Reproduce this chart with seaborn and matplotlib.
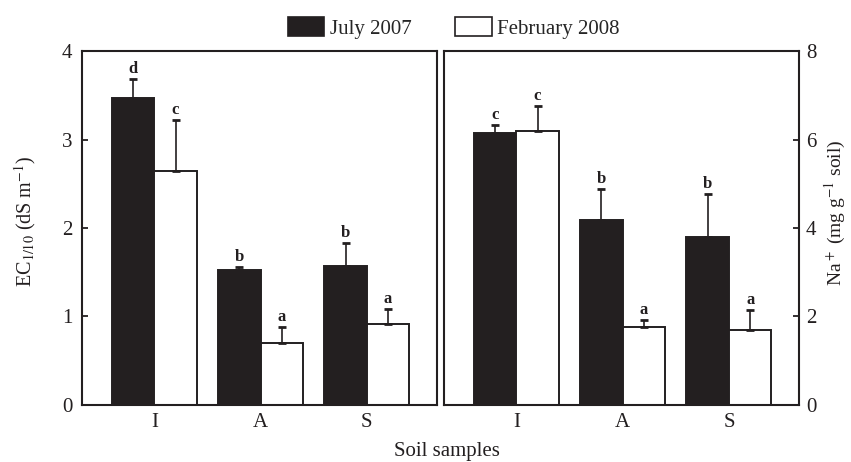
import matplotlib
matplotlib.use("Agg")
import matplotlib.pyplot as plt
import seaborn as sns
import pandas as pd
import numpy as np
from matplotlib.patches import Patch
from matplotlib.container import BarContainer

# ---- data ----
samples = ["I", "A", "S"]
periods = ["July 2007", "February 2008"]
ec_july = [3.47, 1.53, 1.57]
ec_july_err = [0.21, 0.03, 0.26]
ec_feb = [2.64, 0.70, 0.92]
ec_feb_err = [0.58, 0.18, 0.16]
ec_letters_july = ["d", "b", "b"]
ec_letters_feb = ["c", "a", "a"]

na_july = [6.14, 4.19, 3.80]
na_july_err = [0.19, 0.70, 0.97]
na_feb = [6.20, 1.76, 1.70]
na_feb_err = [0.55, 0.15, 0.44]
na_letters_july = ["c", "b", "b"]
na_letters_feb = ["c", "a", "a"]

dark = "#231f20"

sns.set_theme(style="white")
plt.rcParams["font.family"] = ["Liberation Serif", "DejaVu Serif"]
plt.rcParams["mathtext.fontset"] = "stix"

def make_df(july, feb):
    return pd.DataFrame({
        "sample": samples * 2,
        "period": [periods[0]] * 3 + [periods[1]] * 3,
        "value": list(july) + list(feb),
    })

fig = plt.figure(figsize=(8.51, 4.62), dpi=100)
ax1 = fig.add_axes([0.0964, 0.1234, 0.4171, 0.7662])
ax2 = fig.add_axes([0.5217, 0.1234, 0.4173, 0.7662])

palette = {periods[0]: dark, periods[1]: "white"}

def draw(ax, july, feb, jerr, ferr, jl, fl, ymax, yticks):
    df = make_df(july, feb)
    sns.barplot(data=df, x="sample", y="value", hue="period", order=samples,
                hue_order=periods, palette=palette, edgecolor=dark,
                linewidth=1.4, errorbar=None, ax=ax, legend=False, saturation=1)
    errs = [jerr, ferr]
    vals = [july, feb]
    lets = [jl, fl]
    bars = [c for c in ax.containers if isinstance(c, BarContainer)]
    for k, cont in enumerate(bars):
        for i, p in enumerate(cont.patches):
            xc = p.get_x() + p.get_width() / 2
            v = vals[k][i]
            e = errs[k][i]
            ax.errorbar([xc], [v], yerr=[[0], [e]], fmt="none", ecolor=dark,
                        elinewidth=1.2, capsize=2.8, capthick=2.0, zorder=1)
            ax.annotate(lets[k][i], (xc, v + e), xytext=(0, 1.5),
                        textcoords="offset points", ha="center", va="bottom",
                        fontsize=12, fontweight="bold", color=dark)
    ax.set_ylim(0, ymax)
    ax.set_xlim(-0.68, 2.66)
    ax.set_yticks(yticks)
    ax.set_xlabel("")
    ax.set_ylabel("")
    for s in ax.spines.values():
        s.set_color(dark)
        s.set_linewidth(1.5)
        s.set_visible(True)
    ax.tick_params(axis="x", length=0, pad=6, labelsize=15, colors=dark)

draw(ax1, ec_july, ec_feb, ec_july_err, ec_feb_err, ec_letters_july, ec_letters_feb,
     4, [0, 1, 2, 3, 4])
draw(ax2, na_july, na_feb, na_july_err, na_feb_err, na_letters_july, na_letters_feb,
     8, [0, 2, 4, 6, 8])

ax1.tick_params(axis="y", direction="in", length=4, width=1.3, left=True,
                right=False, labelsize=15, pad=7, colors=dark)
ax2.tick_params(axis="y", direction="in", length=4, width=1.3, left=False,
                right=True, labelleft=False, labelright=True, labelsize=15,
                pad=5, colors=dark)

fig.text(0.029, 0.52, r"EC$_{1/10}$ (dS m$^{-1}$)", rotation=90, ha="center",
         va="center", fontsize=14.5, color=dark)
fig.text(0.982, 0.54, r"Na$^+$ (mg g$^{-1}$ soil)", rotation=90, ha="center",
         va="center", fontsize=14, color=dark)
fig.text(0.525, 0.022, "Soil samples", ha="center", va="center", fontsize=15,
         color=dark)

handles = [Patch(facecolor=dark, edgecolor=dark, linewidth=1.2, label=periods[0]),
           Patch(facecolor="white", edgecolor=dark, linewidth=1.2, label=periods[1])]
fig.legend(handles=handles, loc="center", bbox_to_anchor=(0.533, 0.94), ncol=2,
           frameon=False, fontsize=15, handlelength=1.75, handleheight=1.05,
           handletextpad=0.25, columnspacing=2.1)

fig.savefig("out.png", dpi=100)
